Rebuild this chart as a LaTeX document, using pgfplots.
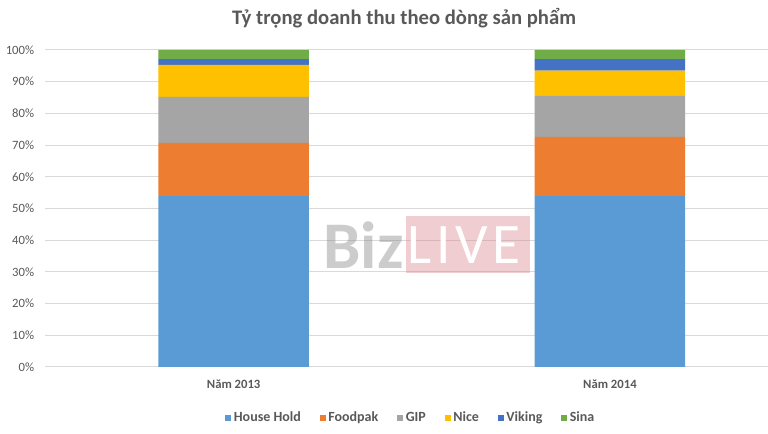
\documentclass[border=0pt]{standalone}
\usepackage{pgfplots}
\pgfplotsset{compat=1.18}
\usepackage{fontspec}
\setmainfont{Carlito}
\definecolor{hh}{HTML}{5B9BD5}
\definecolor{fp}{HTML}{ED7D31}
\definecolor{gip}{HTML}{A5A5A5}
\definecolor{nice}{HTML}{FFC000}
\definecolor{vik}{HTML}{4472C4}
\definecolor{sina}{HTML}{70AD47}
\definecolor{txt}{HTML}{595959}
\definecolor{grd}{HTML}{D9D9D9}
\definecolor{wm}{HTML}{D9828A}
\begin{document}
\begin{tikzpicture}
\path[use as bounding box] (0,0) rectangle (576pt,325.5pt);
\node[font=\bfseries\fontsize{15.5}{17}\selectfont, text=txt] at (303pt,312pt) {Tỷ trọng doanh thu theo dòng sản phẩm};
\begin{axis}[
    at={(34.1pt,50.25pt)}, anchor=south west,
    scale only axis,
    width=541.9pt, height=237.75pt,
    ybar stacked,
    bar width=0.4,
    xmin=-0.5, xmax=1.42,
    ymin=0, ymax=100,
    xtick={0,1},
    xticklabels={Năm 2013, Năm 2014},
    ytick={0,10,...,100},
    yticklabel={\pgfmathprintnumber{\tick}\%},
    /pgf/number format/assume math mode=true,
    axis line style={draw=none},
    major tick length=0pt,
    ymajorgrids,
    grid style={grd, line width=0.75pt},
    tick label style={text=txt, font=\fontsize{9.5}{10}\selectfont},
    xticklabel style={font=\bfseries\fontsize{9.5}{10}\selectfont, yshift=-6pt},
    yticklabel style={xshift=-5pt},
    clip=false,
    legend columns=-1,
    legend style={at={(0.506,-0.161)}, anchor=center, draw=none, fill=none,
        font=\bfseries\fontsize{10.5}{11}\selectfont, text=txt,
        /tikz/every even column/.append style={column sep=12pt}},
    legend image code/.code={\fill[#1,draw=none] (0pt,-2.3pt) rectangle (4.6pt,2.3pt);},
]
\addplot[fill=hh, draw=none] coordinates {(0,53.9) (1,53.9)};
\addlegendentry{House Hold}
\addplot[fill=fp, draw=none] coordinates {(0,16.8) (1,18.7)};
\addlegendentry{Foodpak}
\addplot[fill=gip, draw=none] coordinates {(0,14.5) (1,12.9)};
\addlegendentry{GIP}
\addplot[fill=nice, draw=none] coordinates {(0,10.1) (1,8.0)};
\addlegendentry{Nice}
\addplot[fill=vik, draw=none] coordinates {(0,1.8) (1,3.6)};
\addlegendentry{Viking}
\addplot[fill=sina, draw=none] coordinates {(0,2.9) (1,2.9)};
\addlegendentry{Sina}
\end{axis}
% watermark
\node[anchor=east, inner sep=0pt, font=\bfseries\fontsize{50}{50}\selectfont, text=gray, opacity=0.4] at (303pt,141.75pt) {Biz};
\fill[wm, opacity=0.4] (304.5pt,120.75pt) rectangle (397.5pt,163.5pt);
\node[anchor=west, inner sep=0pt, font=\fontsize{43}{43}\selectfont\addfontfeature{LetterSpace=8}, text=white] at (305.5pt,141.75pt) {LIVE};
\end{tikzpicture}
\end{document}
